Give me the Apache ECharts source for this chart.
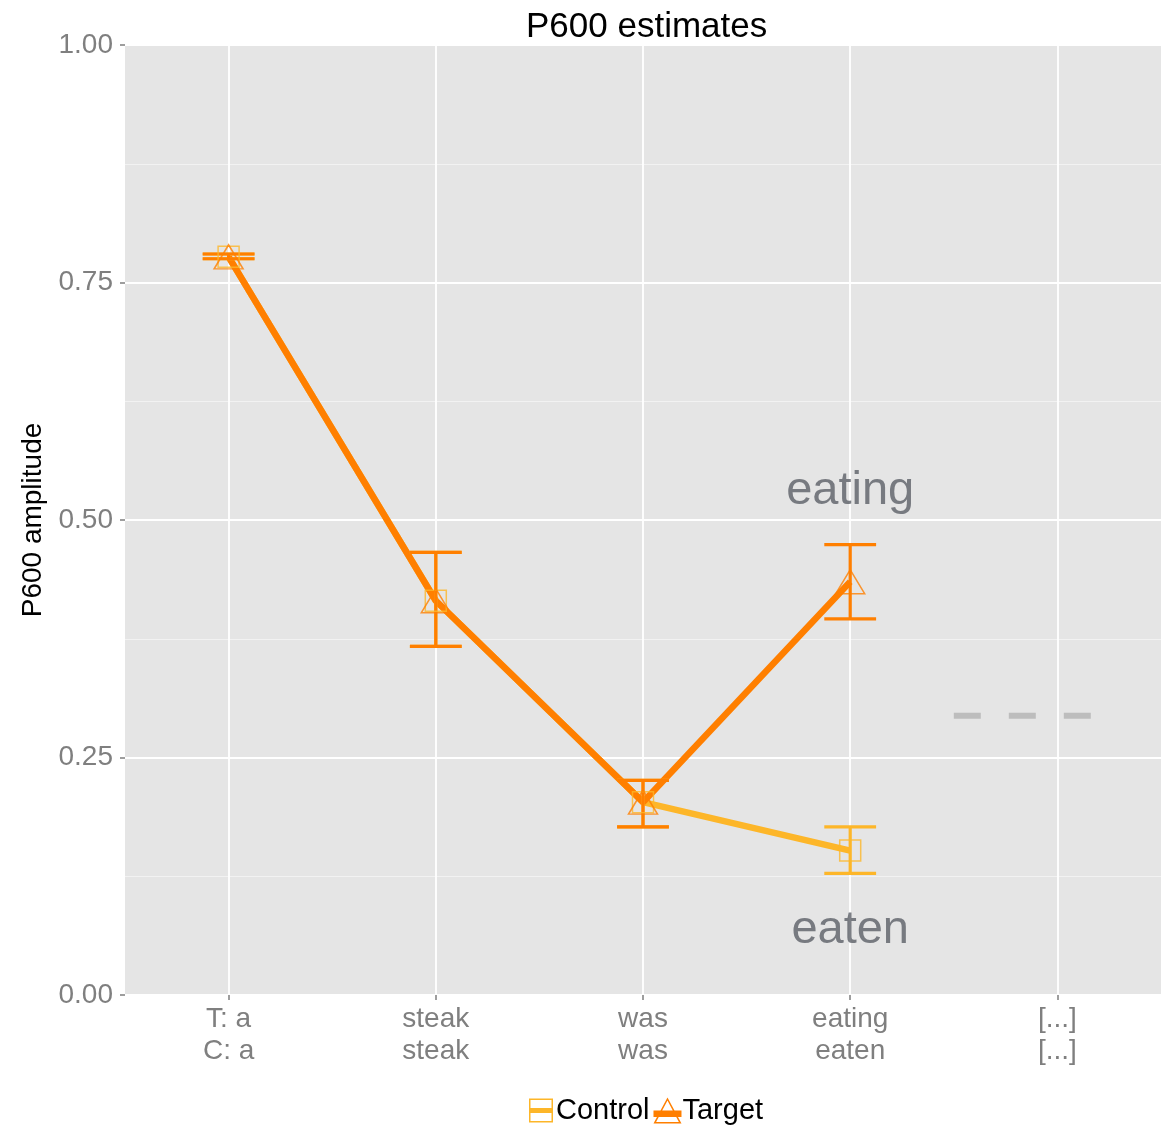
<!DOCTYPE html>
<html><head><meta charset="utf-8">
<script src="https://cdn.jsdelivr.net/npm/echarts@6/dist/echarts.min.js"></script>
<style>html,body{margin:0;padding:0;background:#fff}#c{width:1173px;height:1125px}</style>
</head><body><div id="c"></div>
<script>
const categories = ['T: a\nC: a', 'steak\nsteak', 'was\nwas', 'eating\neaten', '[...]\n[...]'];
const targetValues = [0.777, 0.415, 0.203, 0.435];
const targetHigh = [0.780, 0.466, 0.226, 0.474];
const targetLow = [0.775, 0.367, 0.177, 0.396];
const controlValues = [0.777, 0.415, 0.203, 0.152];
const controlHigh = [0.780, 0.466, 0.226, 0.177];
const controlLow = [0.775, 0.367, 0.177, 0.128];
const yTicks = [0, 0.25, 0.5, 0.75, 1.0];
const annotations = [{ name: 'eating', cat: 3, value: 0.531 }, { name: 'eaten', cat: 3, value: 0.068 }];
const continuationX = [4.0, 4.67];
const continuationY = 0.294;

const CTRL = '#FDB629';
const TGT = '#FF7F00';
const FONT = 'Liberation Sans, Arial, Helvetica, sans-serif';

// legend key glyphs (frame + thick bar), 28x26 box
const ctrlIcon = 'path://M0 0L0.01 0L0.01 0.01Z M28 26L27.99 26L27.99 25.99Z ' +
  'M2 1H26V25H2Z M3.5 2.5V10.5H24.5V2.5Z M3.5 15.5V23.5H24.5V15.5Z';
const tgtIcon = 'path://M14 0L28 26L0 26Z M14 3L8.7 13L19.3 13Z M5.25 19.5L2.6 24.5L25.4 24.5L22.75 19.5Z M0 13H28V19.5H0Z';

function errSeries(name, low, high, color, z) {
  return {
    type: 'custom', name: name, xAxisIndex: 0, yAxisIndex: 0, z: z, silent: true,
    data: low.map((l, i) => [i, l, high[i]]),
    renderItem: function (params, api) {
      const x = api.value(0);
      const pLow = api.coord([x, api.value(1)]);
      const pHigh = api.coord([x, api.value(2)]);
      const half = api.size([1, 0])[0] * 0.125;
      const style = { stroke: color, lineWidth: 3.2 };
      return { type: 'group', children: [
        { type: 'line', shape: { x1: pLow[0], y1: pLow[1], x2: pHigh[0], y2: pHigh[1] }, style: style },
        { type: 'line', shape: { x1: pLow[0] - half, y1: pLow[1], x2: pLow[0] + half, y2: pLow[1] }, style: style },
        { type: 'line', shape: { x1: pHigh[0] - half, y1: pHigh[1], x2: pHigh[0] + half, y2: pHigh[1] }, style: style }
      ]};
    }
  };
}

const chart = echarts.init(document.getElementById('c'), null, { renderer: 'canvas' });
chart.setOption({
  animation: false,
  backgroundColor: '#fff',
  textStyle: { fontFamily: FONT },
  title: { text: 'P600 estimates', left: 521, top: 5,
    textStyle: { fontSize: 35, fontWeight: 'normal', color: '#000', fontFamily: FONT } },
  legend: {
    left: 522, top: 1091, itemGap: 4, itemWidth: 28, itemHeight: 26,
    data: [
      { name: 'Control', icon: ctrlIcon, itemStyle: { color: CTRL, borderWidth: 0 } },
      { name: 'Target', icon: tgtIcon, itemStyle: { color: TGT, borderWidth: 0 } }
    ],
    textStyle: { fontSize: 29, color: '#000', fontFamily: FONT, padding: [0, 0, 0, -4] }
  },
  grid: { left: 125, top: 45, right: 12, bottom: 130, backgroundColor: '#E5E5E5', show: true, borderWidth: 0 },
  xAxis: [{
    type: 'category', data: categories, boundaryGap: true,
    axisLine: { show: false },
    axisTick: { show: true, alignWithLabel: true, length: 5, lineStyle: { color: '#7f7f7f', width: 1.5 } },
    axisLabel: { color: '#7f7f7f', fontSize: 28, lineHeight: 32, margin: 8, fontFamily: FONT },
    splitLine: { show: true, alignWithLabel: true, lineStyle: { color: '#fff', width: 1.8 } }
  }, {
    type: 'value', min: 0, max: 5, show: false
  }],
  yAxis: {
    type: 'value', min: 0, max: 1, interval: 0.25,
    name: 'P600 amplitude', nameLocation: 'middle', nameRotate: 90, nameGap: 72,
    nameTextStyle: { fontSize: 28, color: '#000', fontFamily: FONT },
    axisLine: { show: false },
    axisTick: { show: true, length: 5, lineStyle: { color: '#7f7f7f', width: 1.5 } },
    axisLabel: { color: '#7f7f7f', fontSize: 28, margin: 12, fontFamily: FONT,
      formatter: v => yTicks.includes(v) ? v.toFixed(2) : '' },
    splitLine: { show: true, lineStyle: { color: '#fff', width: 1.8 } },
    minorTick: { show: false, splitNumber: 2 },
    minorSplitLine: { show: true, lineStyle: { color: '#F2F2F2', width: 1 } }
  },
  series: [
    { type: 'line', name: 'Control', data: controlValues, z: 2, showSymbol: false,
      symbol: 'rect', symbolSize: 20,
      lineStyle: { color: CTRL, width: 6.5 },
      itemStyle: { color: 'rgba(0,0,0,0)', borderColor: CTRL, borderWidth: 1.5 } },
    { type: 'line', name: 'Target', data: targetValues, z: 3, showSymbol: false,
      symbol: 'triangle', symbolSize: [26, 22],
      lineStyle: { color: TGT, width: 6.5 },
      itemStyle: { color: 'rgba(0,0,0,0)', borderColor: TGT, borderWidth: 1.5 } },
    errSeries('ctrlErr', controlLow, controlHigh, CTRL, 4),
    errSeries('tgtErr', targetLow, targetHigh, TGT, 5),
    { type: 'scatter', name: 'Control', data: controlValues, z: 6, symbol: 'rect', symbolSize: 21,
      itemStyle: { color: 'rgba(0,0,0,0)', borderColor: CTRL, borderWidth: 1.5 } },
    { type: 'scatter', name: 'Target', data: targetValues, z: 7, symbol: 'triangle', symbolSize: [29, 24],
      itemStyle: { color: 'rgba(0,0,0,0)', borderColor: TGT, borderWidth: 1.5 } },
    { type: 'line', name: 'cont', xAxisIndex: 1, z: 2, symbol: 'none', silent: true,
      data: continuationX.map(x => [x, continuationY]),
      lineStyle: { color: '#BDBDBD', width: 6, type: [27, 28] } },
    { type: 'scatter', name: 'ann', z: 8, symbolSize: 0, silent: true,
      data: annotations.map(a => ({ name: a.name, value: [a.cat, a.value] })),
      label: { show: true, position: 'inside', formatter: p => p.name,
        fontSize: 47, color: '#5B5F66', fontFamily: FONT } }
  ]
});
</script></body></html>
